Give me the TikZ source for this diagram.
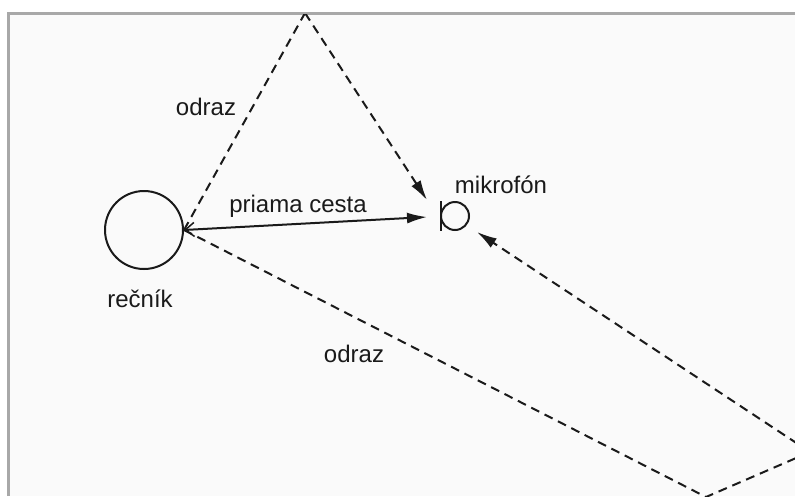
\documentclass[tikz,border=0pt]{standalone}
\usepackage{fontspec}
\setmainfont{Liberation Sans}
\usetikzlibrary{arrows.meta}
\definecolor{framegray}{HTML}{A8A8A8}
\definecolor{panel}{HTML}{FAFAFA}
\definecolor{ink}{HTML}{1A1A1A}
\tikzset{
  lbl/.style={font=\fontsize{24}{28}\selectfont, text=ink, anchor=base, inner sep=0pt},
  refl/.style={draw=ink, line width=2pt, dash pattern=on 9pt off 6pt},
  tipfill/.style={-{Latex[length=20pt,width=11pt]}},
  direct/.style={draw=ink, line width=2pt},
}
\begin{document}
\begin{tikzpicture}[x=1pt,y=-1pt]
\useasboundingbox (0,0) rectangle (795,496);
\fill[white] (0,0) rectangle (795,496);
\fill[panel] (8,13) rectangle (795,496);
\draw[framegray, line width=3pt] (8,496) -- (8,13) -- (795,13);
\begin{scope}
\clip (9.5,14.5) rectangle (795,496);
% nodes
\node[circle, draw=ink, line width=2pt, minimum size=78pt, inner sep=0pt] (spk) at (144,230) {};
\node[circle, draw=ink, line width=2pt, minimum size=28pt, inner sep=0pt] (mic) at (455,216) {};
\coordinate (barT) at (441,201);
\coordinate (barB) at (441,231);
\draw[ink, line width=2pt] (barT) -- (barB);
% reflection points and arrow tips
\coordinate (apex) at (305,13);
\coordinate (tipTop) at (427,200);
\coordinate (tipDir) at (427,217);
\coordinate (tipLow) at (477,232);
\coordinate (botV) at (706,497);
\coordinate (rightV) at (810,452);
% paths
\draw[refl] (spk.east) -- (apex);
\draw[refl, tipfill] (apex) -- (tipTop);
\draw[refl] (spk.east) -- (botV) -- (rightV);
\draw[refl, tipfill] (rightV) -- (tipLow);
\draw[direct, {Straight Barb[length=9pt,width=14pt,line width=1.5pt]}-{Latex[length=20pt,width=11pt]}] (spk.east) -- (tipDir);
\end{scope}
% labels
\node[lbl] (l1) at (206,115) {odraz};
\node[lbl] (l2) at (298,212) {priama cesta};
\node[lbl] (l3) at (501,193) {mikrofón};
\node[lbl] (l4) at (140,307) {rečník};
\node[lbl] (l5) at (354,362) {odraz};
\end{tikzpicture}
\end{document}
